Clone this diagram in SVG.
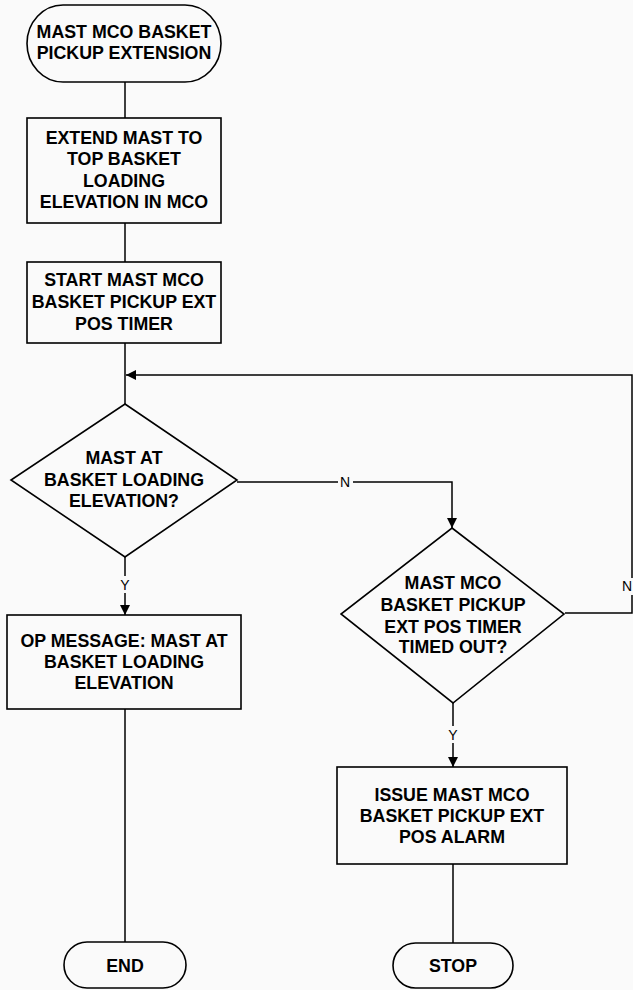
<svg xmlns="http://www.w3.org/2000/svg" width="633" height="990" viewBox="0 0 633 990">
<style>
.s{fill:none;stroke:#000;stroke-width:1.6}
.t{font-family:"Liberation Sans",Arial,sans-serif;font-weight:bold;font-size:17.8px;text-anchor:middle;fill:#000}
.l{font-family:"Liberation Sans",Arial,sans-serif;font-size:14px;text-anchor:middle;fill:#000}
.c{fill:none;stroke:#000;stroke-width:1.5}
</style>
<defs>
<marker id="a" viewBox="0 0 10 10" refX="10" refY="5" markerWidth="10" markerHeight="10" markerUnits="userSpaceOnUse" orient="auto">
<path d="M0,0 L10,5 L0,10 Z" fill="#000"/>
</marker>
</defs>
<rect width="633" height="990" fill="#fafafa"/>
<g id="connectors">
<path class="c" d="M125,82 V118"/>
<path class="c" d="M125,223 V262"/>
<path class="c" d="M125,343 V404"/>
<path class="c" d="M632,578 V375 H126" marker-end="url(#a)"/>
<path class="c" d="M565,613 H632 V595"/>
<path class="c" d="M237,482 H338"/>
<path class="c" d="M353,482 H452 V528" marker-end="url(#a)"/>
<path class="c" d="M125,557 V576"/>
<path class="c" d="M125,593 V615" marker-end="url(#a)"/>
<path class="c" d="M453,703 V726"/>
<path class="c" d="M453,743 V767" marker-end="url(#a)"/>
<path class="c" d="M125,709 V942"/>
<path class="c" d="M453,864 V943"/>
<text class="l" x="345" y="487">N</text>
<text class="l" x="125" y="590">Y</text>
<text class="l" x="453" y="740">Y</text>
<text class="l" x="627" y="591">N</text>
</g>
<g id="start">
<rect class="s" x="27" y="5" width="194" height="77" rx="36" ry="38.5"/>
<text class="t" x="124" y="38">MAST MCO BASKET</text>
<text class="t" x="124" y="59">PICKUP EXTENSION</text>
</g>
<g id="extend">
<rect class="s" x="27" y="118" width="194" height="105"/>
<text class="t" x="124" y="144">EXTEND MAST TO</text>
<text class="t" x="124" y="165">TOP BASKET</text>
<text class="t" x="124" y="187">LOADING</text>
<text class="t" x="124" y="208">ELEVATION IN MCO</text>
</g>
<g id="starttimer">
<rect class="s" x="27" y="262" width="194" height="81"/>
<text class="t" x="124" y="286">START MAST MCO</text>
<text class="t" x="124" y="308">BASKET PICKUP EXT</text>
<text class="t" x="124" y="330">POS TIMER</text>
</g>
<g id="decision1">
<polygon class="s" points="125,404 237,480 125,557 11,480"/>
<text class="t" x="124" y="464">MAST AT</text>
<text class="t" x="124" y="486">BASKET LOADING</text>
<text class="t" x="124" y="507">ELEVATION?</text>
</g>
<g id="decision2">
<polygon class="s" points="452,528 564,614 453,703 341,614"/>
<text class="t" x="453" y="589">MAST MCO</text>
<text class="t" x="453" y="611">BASKET PICKUP</text>
<text class="t" x="453" y="633">EXT POS TIMER</text>
<text class="t" x="453" y="653">TIMED OUT?</text>
</g>
<g id="opmessage">
<rect class="s" x="7" y="615" width="234" height="94"/>
<text class="t" x="124" y="647">OP MESSAGE: MAST AT</text>
<text class="t" x="124" y="668">BASKET LOADING</text>
<text class="t" x="124" y="689">ELEVATION</text>
</g>
<g id="alarm">
<rect class="s" x="337" y="767" width="230" height="97"/>
<text class="t" x="452" y="801">ISSUE MAST MCO</text>
<text class="t" x="452" y="822">BASKET PICKUP EXT</text>
<text class="t" x="452" y="843">POS ALARM</text>
</g>
<g id="end">
<rect class="s" x="64" y="942" width="122" height="46" rx="23" ry="23"/>
<text class="t" x="125" y="972">END</text>
</g>
<g id="stop">
<rect class="s" x="393" y="943" width="120" height="45" rx="22.5" ry="22.5"/>
<text class="t" x="453" y="972">STOP</text>
</g>
</svg>
